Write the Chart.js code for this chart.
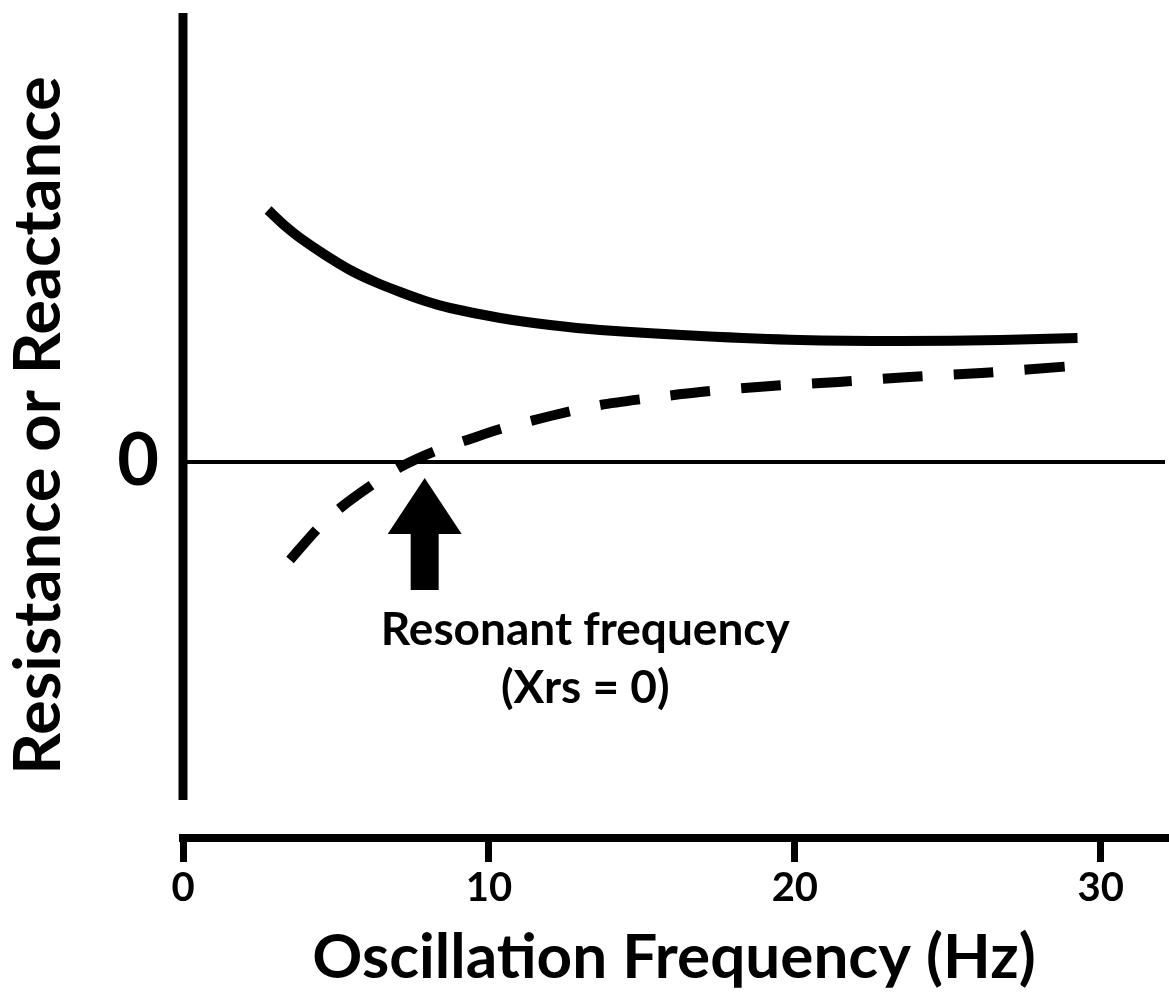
<!DOCTYPE html>
<html>
<head>
<meta charset="utf-8">
<script src="https://cdn.jsdelivr.net/npm/chart.js@4"></script>
<style>
  html, body { margin: 0; padding: 0; background: #fff; }
  canvas { display: block; }
</style>
</head>
<body>
<canvas id="chart" width="1169" height="1001"></canvas>
<script>
// ================= DATA =================
const xTicks = [0, 10, 20, 30];
const yTicks = [0];

// solid curve (resistance)
const freqSolid = [2.78, 3.34, 3.83, 4.65, 5.46, 6.28, 7.1, 7.92, 8.73, 10.37, 12.0, 13.64, 16.91, 20.18, 23.45, 26.73, 29.24];
const resistance = [25.2, 23.6, 22.4, 20.7, 19.2, 18.0, 17.0, 16.1, 15.4, 14.4, 13.7, 13.2, 12.6, 12.2, 12.1, 12.2, 12.4];

// dashed curve (reactance)
const freqDashed = [3.5, 4.42, 5.14, 6.22, 7.1, 8.24, 9.29, 10.37, 12.01, 13.64, 15.28, 16.91, 19.23, 21.43, 23.75, 26.1, 29.08];
const reactance = [-9.8, -6.6, -4.6, -2.2, -0.5, 1.1, 2.2, 3.3, 4.6, 5.7, 6.4, 7.0, 7.6, 8.0, 8.5, 8.9, 9.6];

const resonantFreq = 7.9;
const noteLines = ["Resonant frequency", "(Xrs = 0)"];

// ================= LAYOUT (scale units) =================
const xMin = 0, xMax = 32.1;
const yMin = -37.6, yMax = 44.9;
const yAxisEnd = -33.8;
const arrow = { tip: -1.6, base: -7.2, end: -12.8, head: 37, shaft: 14 };
const note = { x: 13.15, lines: [-18.3, -24.1] };

const FONT = "Lato";

function toPoints(xs, ys){
    return xs.map((x, i) => ({ x: x, y: ys[i] }));
}

// ================= PLUGINS =================
const yAxisLine = {
    id: "yAxisLine",
    afterDatasetsDraw(chart){
        const { ctx, chartArea, scales } = chart;
        ctx.save();
        ctx.strokeStyle = "#000";
        ctx.lineWidth = 9;
        ctx.beginPath();
        ctx.moveTo(chartArea.left, chartArea.top);
        ctx.lineTo(chartArea.left, scales.y.getPixelForValue(yAxisEnd));
        ctx.stroke();
        ctx.restore();
    }
};

const resonance = {
    id: "resonance",
    afterDatasetsDraw(chart){
        const { ctx, scales } = chart;
        const x = scales.x.getPixelForValue(resonantFreq);
        const tip = scales.y.getPixelForValue(arrow.tip);
        const base = scales.y.getPixelForValue(arrow.base);
        const end = scales.y.getPixelForValue(arrow.end);

        ctx.save();
        ctx.fillStyle = "#000";
        ctx.beginPath();
        ctx.moveTo(x, tip);
        ctx.lineTo(x + arrow.head, base);
        ctx.lineTo(x + arrow.shaft, base);
        ctx.lineTo(x + arrow.shaft, end);
        ctx.lineTo(x - arrow.shaft, end);
        ctx.lineTo(x - arrow.shaft, base);
        ctx.lineTo(x - arrow.head, base);
        ctx.closePath();
        ctx.fill();

        ctx.font = "bold 46px " + FONT;
        ctx.textAlign = "center";
        ctx.textBaseline = "alphabetic";
        const nx = scales.x.getPixelForValue(note.x);
        noteLines.forEach((t, i) => {
            ctx.fillText(t, nx, scales.y.getPixelForValue(note.lines[i]));
        });
        ctx.restore();
    }
};

// ================= CHART =================
const ctx = document.getElementById("chart").getContext("2d");

new Chart(ctx, {
    type: "line",
    data: {
        datasets: [
            {
                label: "Resistance",
                data: toPoints(freqSolid, resistance),
                borderColor: "#000",
                borderWidth: 10,
                borderCapStyle: "butt",
                tension: 0.3,
                pointRadius: 0,
                fill: false
            },
            {
                label: "Reactance",
                data: toPoints(freqDashed, reactance),
                borderColor: "#000",
                borderWidth: 10,
                borderDash: [40, 31],
                borderCapStyle: "butt",
                tension: 0.3,
                pointRadius: 0,
                fill: false
            }
        ]
    },
    options: {
        responsive: false,
        animation: false,
        layout: { padding: { top: 13, right: 4, left: 0, bottom: 0 } },
        plugins: {
            legend: { display: false },
            tooltip: { enabled: false }
        },
        scales: {
            x: {
                type: "linear",
                min: xMin,
                max: xMax,
                afterBuildTicks: s => { s.ticks = xTicks.map(v => ({ value: v })); },
                afterFit: s => { s.height = 163; s.paddingLeft = 0; s.paddingRight = 0; },
                border: { display: true, color: "#000", width: 8 },
                grid: {
                    drawOnChartArea: false,
                    drawTicks: true,
                    tickLength: 24,
                    tickWidth: 7,
                    tickColor: "#000",
                    color: "#000",
                    lineWidth: 7
                },
                ticks: {
                    color: "#000",
                    padding: 2,
                    maxRotation: 0,
                    font: { family: FONT, size: 40, weight: "bold" }
                },
                title: {
                    display: true,
                    text: "Oscillation Frequency (Hz)",
                    color: "#000",
                    padding: { top: 0, bottom: 6 },
                    font: { family: FONT, size: 62, weight: "bold" }
                }
            },
            y: {
                type: "linear",
                min: yMin,
                max: yMax,
                afterBuildTicks: s => { s.ticks = yTicks.map(v => ({ value: v })); },
                afterFit: s => { s.width = 183; s.paddingTop = 0; s.paddingBottom = 0; },
                border: { display: false },
                grid: {
                    drawOnChartArea: true,
                    drawTicks: false,
                    color: "#000",
                    lineWidth: 4
                },
                ticks: {
                    color: "#000",
                    padding: 24,
                    font: { family: FONT, size: 72, weight: "bold" }
                },
                title: {
                    display: true,
                    text: "Resistance or Reactance",
                    color: "#000",
                    padding: { top: 0, bottom: 0 },
                    font: { family: FONT, size: 65, weight: "bold" }
                }
            }
        }
    },
    plugins: [yAxisLine, resonance]
});
</script>
</body>
</html>
